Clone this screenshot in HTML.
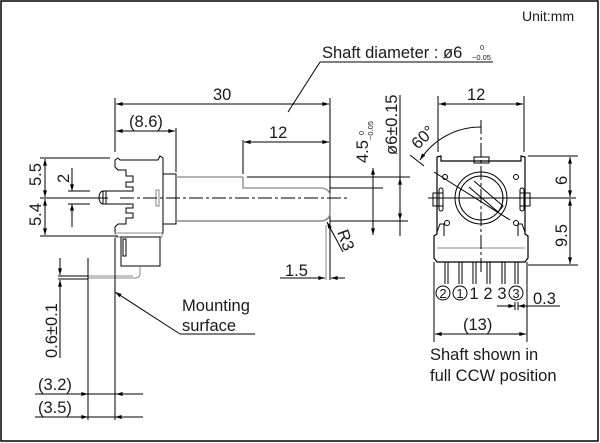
<!DOCTYPE html>
<html><head><meta charset="utf-8"><style>
html,body{margin:0;padding:0;background:#fff}
svg{display:block}
text{font-family:"Liberation Sans",Arial,sans-serif;fill:#1a1a1a}
</style></head><body>
<svg width="600" height="443" viewBox="0 0 600 443" xmlns="http://www.w3.org/2000/svg">
<defs>
<marker id="a" viewBox="0 0 10 6" refX="10" refY="3" markerWidth="10" markerHeight="4" orient="auto-start-reverse" markerUnits="userSpaceOnUse"><path d="M0,0 L10,3 L0,6z" fill="#000"/></marker>
</defs>
<rect x="1" y="1" width="597" height="440" fill="none" stroke="#000" stroke-width="1.5"/>
<text x="522" y="21" font-size="14">Unit:mm</text>

<g stroke="#000" stroke-width="1" fill="none">
<line x1="288" y1="112" x2="320" y2="62"/>
<line x1="320" y1="62" x2="493" y2="62"/>
<line x1="115" y1="98" x2="115" y2="152"/>
<line x1="330" y1="98" x2="330" y2="280"/>
<line x1="116" y1="104" x2="329" y2="104" marker-start="url(#a)" marker-end="url(#a)"/>
<line x1="176" y1="128" x2="176" y2="172"/>
<line x1="116" y1="131" x2="175" y2="131" marker-start="url(#a)" marker-end="url(#a)"/>
<line x1="243" y1="140" x2="243" y2="174"/>
<line x1="244" y1="142" x2="329" y2="142" marker-start="url(#a)" marker-end="url(#a)"/>
<line x1="247" y1="177" x2="410" y2="177"/>
<line x1="330" y1="188" x2="383" y2="188"/>
<line x1="330" y1="221" x2="408" y2="221"/>
<line x1="373" y1="168" x2="373" y2="235" marker-start="url(#a)" marker-end="url(#a)"/>
<line x1="400" y1="95" x2="400" y2="236"/>
<line x1="400" y1="190" x2="400" y2="178" marker-end="url(#a)"/>
<line x1="400" y1="206" x2="400" y2="220" marker-end="url(#a)"/>
<line x1="326" y1="225" x2="326" y2="280" stroke="#888"/>
<line x1="280" y1="278" x2="325" y2="278" marker-end="url(#a)"/>
<line x1="345" y1="278" x2="331" y2="278" marker-end="url(#a)"/>
<line x1="343" y1="252" x2="327" y2="222" marker-end="url(#a)"/>

<line x1="40" y1="158" x2="110" y2="158"/>
<line x1="40" y1="236" x2="118" y2="236"/>
<line x1="45" y1="159" x2="45" y2="197" marker-start="url(#a)" marker-end="url(#a)"/>
<line x1="45" y1="199" x2="45" y2="235" marker-start="url(#a)" marker-end="url(#a)"/>
<line x1="40" y1="198" x2="108" y2="198"/>
<line x1="72" y1="168" x2="72" y2="191" marker-end="url(#a)"/>
<line x1="72" y1="227" x2="72" y2="204" marker-end="url(#a)"/>
<line x1="68" y1="191" x2="90" y2="191"/>
<line x1="68" y1="204" x2="90" y2="204"/>

<path d="M118,158 L115,160 L115,167 L118,170 L126,170 L126,176 L133,176 L133,182 L126,182 L126,187 L133,187 L133,191 L103,191 L103,204 L133,204 L133,208 L126,208 L126,213 L133,213 L133,218 L126,218 L126,224 L118,224 L115,227 L115,233 L163,233 L163,158 L160,156 L158,160 L120,160 Z"/>
<path d="M103,191 a4,6.5 0 0 0 0,13" />
<line x1="106" y1="191" x2="106" y2="204"/>
<rect x="156" y="190" width="3" height="16" stroke="#888"/>
<rect x="163" y="174" width="13" height="50"/>
<rect x="115" y="233" width="47" height="4" stroke="#888"/>
<rect x="121" y="237" width="39" height="29"/>
<rect x="123" y="239" width="3" height="17"/>
<path d="M140,266 L140,274 Q140,278 135,278 L88,278" stroke="#888"/>
<line x1="88" y1="276" x2="133" y2="276" stroke="#888"/>
<line x1="176" y1="177" x2="243" y2="177" stroke="#999" stroke-width="1.5"/>
<path d="M243,177 L243,188 L322,188 Q329,189 330,195" stroke="#888" stroke-width="1.3"/>
<path d="M176,221 L322,221 Q329,220 330,214 L330,195" stroke="#888" stroke-width="1.5"/>
<line x1="120" y1="198" x2="350" y2="198" stroke-dasharray="14,3,3,3"/>

<line x1="88" y1="258" x2="88" y2="420"/>
<line x1="115" y1="238" x2="115" y2="420"/>
<line x1="35" y1="394" x2="143" y2="394"/>
<line x1="35" y1="417" x2="143" y2="417"/>
<line x1="80" y1="394" x2="88" y2="394" marker-end="url(#a)"/>
<line x1="125" y1="394" x2="116" y2="394" marker-end="url(#a)"/>
<line x1="78" y1="417" x2="88" y2="417" marker-end="url(#a)"/>
<line x1="125" y1="417" x2="115" y2="417" marker-end="url(#a)"/>
<line x1="58" y1="276" x2="88" y2="276"/>
<line x1="58" y1="279" x2="88" y2="279"/>
<line x1="60" y1="258" x2="60" y2="275" marker-end="url(#a)"/>
<line x1="60" y1="358" x2="60" y2="280" marker-end="url(#a)"/>
<line x1="180" y1="334" x2="255" y2="334"/>
<line x1="180" y1="334" x2="115" y2="292" marker-end="url(#a)"/>

<line x1="438" y1="96" x2="438" y2="152"/>
<line x1="524" y1="96" x2="524" y2="152"/>
<line x1="439" y1="104" x2="523" y2="104" marker-start="url(#a)" marker-end="url(#a)"/>
<path d="M437,157 L437,234 L434,236 L434,258 L437,262 L525,262 L528,258 L528,236 L525,234 L525,157 L521,156 L521,161 L441,161 L441,156 Z" stroke-width="1.2"/>
<rect x="474" y="157" width="15" height="6"/>
<line x1="437" y1="248" x2="525" y2="248" stroke="#888"/>
<rect x="433" y="193" width="10" height="13"/>
<rect x="439" y="188" width="4" height="23" rx="2"/>
<rect x="520" y="193" width="10" height="13"/>
<rect x="520" y="188" width="4" height="23" rx="2"/>
<path d="M437,232 l3,-8 l4,0 l0,12" />
<path d="M525,232 l-3,-8 l-4,0 l0,12" />
<circle cx="445" cy="177" r="2.5"/>
<circle cx="516" cy="177" r="2.5"/>
<circle cx="447" cy="223" r="2.5"/>
<circle cx="516" cy="223" r="2.5"/>
<circle cx="481" cy="198" r="26"/>
<circle cx="481" cy="198" r="22"/>
<path d="M474,181 L503,206 L498,212 L469,187"/>
<line x1="434" y1="172" x2="510" y2="220"/>
<line x1="481" y1="120" x2="481" y2="275" stroke-dasharray="14,3,3,3"/>
<line x1="428" y1="198" x2="576" y2="198"/>
<path d="M481,127 A72,72 0 0 0 420,160" marker-end="url(#a)"/>
<line x1="410" y1="155" x2="424" y2="166"/>
<line x1="445" y1="262" x2="445" y2="284"/><line x1="448" y1="262" x2="448" y2="284"/>
<line x1="459" y1="262" x2="459" y2="284"/><line x1="462" y1="262" x2="462" y2="284"/>
<line x1="473" y1="262" x2="473" y2="284"/><line x1="476" y1="262" x2="476" y2="284"/>
<line x1="487" y1="262" x2="487" y2="284"/><line x1="490" y1="262" x2="490" y2="284"/>
<line x1="502" y1="262" x2="502" y2="284"/><line x1="505" y1="262" x2="505" y2="284"/>
<line x1="515" y1="262" x2="515" y2="284"/><line x1="518" y1="262" x2="518" y2="284"/>
<line x1="528" y1="156" x2="578" y2="156"/>
<line x1="528" y1="265" x2="578" y2="265"/>
<line x1="570" y1="157" x2="570" y2="197" marker-start="url(#a)" marker-end="url(#a)"/>
<line x1="570" y1="199" x2="570" y2="264" marker-start="url(#a)" marker-end="url(#a)"/>
<line x1="515" y1="302" x2="515" y2="310"/>
<line x1="518" y1="302" x2="518" y2="310"/>
<line x1="497" y1="306" x2="515" y2="306" marker-end="url(#a)"/>
<line x1="560" y1="306" x2="518" y2="306" marker-end="url(#a)"/>
<line x1="434" y1="262" x2="434" y2="342"/>
<line x1="527" y1="262" x2="527" y2="342"/>
<line x1="435" y1="334" x2="526" y2="334" marker-start="url(#a)" marker-end="url(#a)"/>
<circle cx="443" cy="293" r="7"/>
<circle cx="460" cy="293" r="7"/>
<circle cx="516" cy="293" r="7"/>
</g>

<g font-size="16.5">
<text x="322" y="58">Shaft diameter : ø6</text>
<text x="480" y="50" font-size="7.5">0</text>
<text x="472" y="60" font-size="7.5">−0.05</text>
<text x="213" y="100">30</text>
<text x="129" y="127">(8.6)</text>
<text x="269" y="138">12</text>
<text x="467" y="100">12</text>
<text x="285" y="276">1.5</text>
<text x="182" y="311">Mounting</text>
<text x="182" y="331">surface</text>
<text x="38" y="390">(3.2)</text>
<text x="38" y="413">(3.5)</text>
<text x="533" y="304">0.3</text>
<text x="463" y="330">(13)</text>
<text x="430" y="360">Shaft shown in</text>
<text x="430" y="381">full CCW position</text>
<g text-anchor="middle">
<text x="443" y="298" font-size="13">2</text>
<text x="460" y="298" font-size="13">1</text>
<text x="474" y="299">1</text>
<text x="488" y="299">2</text>
<text x="502" y="299">3</text>
<text x="516" y="298" font-size="13">3</text>
</g>
<text transform="translate(41,186) rotate(-90)">5.5</text>
<text transform="translate(41,226) rotate(-90)">5.4</text>
<text transform="translate(69,183) rotate(-90)">2</text>
<text transform="translate(57,358) rotate(-90)">0.6±0.1</text>
<text transform="translate(368,163) rotate(-90)">4.5</text>
<text transform="translate(364,135) rotate(-90)" font-size="7.5">0</text>
<text transform="translate(373,140) rotate(-90)" font-size="7.5">−0.05</text>
<text transform="translate(397,155) rotate(-90)">ø6±0.15</text>
<text transform="translate(337,232) rotate(70)">R3</text>
<text transform="translate(418,150) rotate(-45)">60°</text>
<text transform="translate(567,185) rotate(-90)">6</text>
<text transform="translate(567,247) rotate(-90)">9.5</text>
</g>
</svg>
</body></html>
